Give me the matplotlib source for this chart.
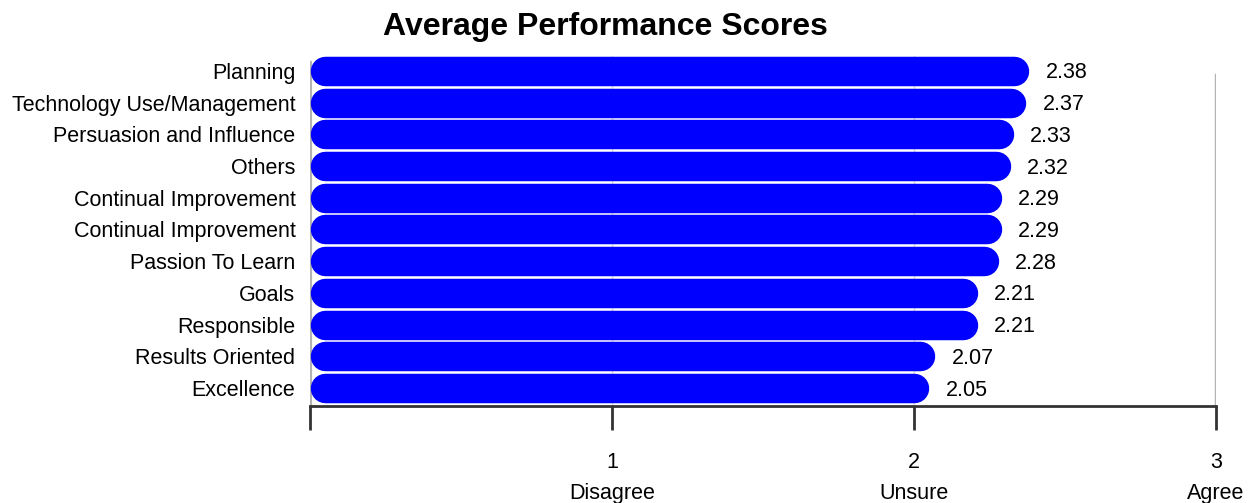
import numpy as np
import matplotlib.pyplot as plt

plt.rcParams['font.family'] = ['Liberation Sans', 'DejaVu Sans']

categories = ['Planning', 'Technology Use/Management', 'Persuasion and Influence',
              'Others', 'Continual Improvement', 'Continual Improvement',
              'Passion To Learn', 'Goals', 'Responsible', 'Results Oriented',
              'Excellence']
scores = [2.38, 2.37, 2.33, 2.32, 2.29, 2.29, 2.28, 2.21, 2.21, 2.07, 2.05]
tick_values = [0, 1, 2, 3]
tick_labels = ['', '1\nDisagree', '2\nUnsure', '3\nAgree']

W, H = 1254, 503
DPI = 100
fig = plt.figure(figsize=(W / DPI, H / DPI), dpi=DPI)
# axes box in pixels: left 310, right 1216, top 56, bottom 406
ax = fig.add_axes([310 / W, (H - 406) / H, 906 / W, 350 / H])

n = len(categories)
ypos = np.arange(n)[::-1]  # first category on top
ax.set_xlim(0, 3)
ax.set_ylim(-0.57, n - 1 + 0.47)

# pixels per data unit, needed for the round-capped bars
sx = ax.transData.transform((1, 0))[0] - ax.transData.transform((0, 0))[0]
sy = ax.transData.transform((0, 1))[1] - ax.transData.transform((0, 0))[1]

bar_px = 0.93 * sy
r = (bar_px / 2) / sx  # cap radius in x data units
for y, v in zip(ypos, scores):
    ax.plot([r, v - r], [y, y], color='#0000ff', linewidth=bar_px * 72 / DPI,
            solid_capstyle='round', zorder=3)
    ax.annotate(f'{v:.2f}', (v, y), xytext=(12, -1.5), textcoords='offset points',
                ha='left', va='center', fontsize=15.5, color='black')

# vertical guide lines
ax.axvline(0, ymax=0.98, color='#b3b3b3', linewidth=3, zorder=1)
ax.axvline(3, ymax=0.946, color='#b3b3b3', linewidth=2.5, zorder=1)
for gx in (1, 2):
    ax.axvline(gx, color='#d9d9d9', linewidth=1, zorder=1)

ax.set_yticks(ypos)
ax.set_yticklabels(categories, fontsize=15.5)
ax.tick_params(axis='y', length=0, pad=10.5)

ax.set_xticks(tick_values)
ax.set_xticklabels(tick_labels, fontsize=15.5, linespacing=1.65)
ax.tick_params(axis='x', direction='out', length=17, width=2, color='#333333', pad=16)

for side in ('top', 'right', 'left'):
    ax.spines[side].set_visible(False)
ax.spines['bottom'].set_color('#333333')
ax.spines['bottom'].set_linewidth(2)

fig.text(605 / W, 1 - 27 / H, 'Average Performance Scores', ha='center', va='center',
         fontsize=23, fontweight='bold')

fig.savefig('out.png', dpi=DPI)
